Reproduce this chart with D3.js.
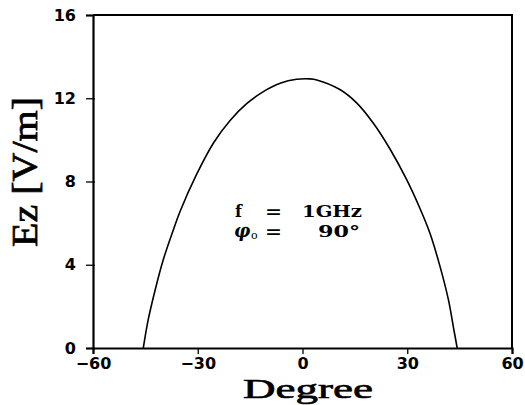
<!DOCTYPE html>
<html>
<head>
<meta charset="utf-8">
<script src="https://cdn.jsdelivr.net/npm/d3@7"></script>
<style>
  html, body { margin: 0; padding: 0; background: #fff; }
  svg { display: block; }
</style>
</head>
<body>
<svg id="chart" width="525" height="405"></svg>
<script>
// ---- data ----
const degrees = [-45.6, -44.2, -42.2, -39.9, -37.0, -35.1, -30.3, -25.5, -20.8, -16.0, -11.2, -6.4, -1.7,
                 2.1, 4.1, 10.7, 15.5, 20.3, 25.1, 29.8, 33.65, 36.5, 39.4, 41.8, 43.2, 44.3];
const ez = [0, 1.35, 2.79, 4.23, 5.67, 6.55, 8.35, 9.85, 10.92, 11.74, 12.32, 12.72, 12.91,
            12.93, 12.88, 12.42, 11.78, 10.80, 9.55, 8.10, 6.70, 5.51, 3.91, 2.31, 1.02, 0];
const xTicks = [-60, -30, 0, 30, 60];
const yTicks = [0, 4, 8, 12, 16];
const xLabel = "Degree";
const yLabel = "Ez [V/m]";
const annotF = ["f", "=", "1GHz"];
const annotPhi = ["φ", "o", "=", "90°"];

// ---- layout ----
const W = 525, H = 405;
const m = { left: 93, right: 13, top: 15, bottom: 57 };
const svg = d3.select("#chart");

const x = d3.scaleLinear().domain([-60, 60]).range([m.left, W - m.right]);
const y = d3.scaleLinear().domain([0, 16]).range([H - m.bottom, m.top]);

const fmt = d => (d < 0 ? "\u2212" + Math.abs(d) : String(d));

// minor ticks
const xMinor = d3.range(-60, 60.001, 2).filter(v => !xTicks.includes(v));
const yMinor = d3.range(0, 16.001, 0.4).map(v => +v.toFixed(1)).filter(v => !yTicks.includes(v));

// frame (top & right)
svg.append("path")
  .attr("d", `M${x(-60)},${y(16)}H${x(60)}V${y(0)}`)
  .attr("fill", "none").attr("stroke", "#000").attr("stroke-width", 2);

// x axis
const gx = svg.append("g").attr("transform", `translate(0,${y(0)})`);
gx.call(d3.axisBottom(x).tickValues(xMinor).tickSize(5).tickFormat(""));
gx.call(d3.axisBottom(x).tickValues(xTicks).tickSize(6).tickPadding(4).tickFormat(fmt));
gx.selectAll(".domain").attr("stroke-width", 2.2);
gx.selectAll(".tick line").attr("stroke-width", 1.3);
gx.selectAll("text")
  .attr("font-family", "DejaVu Sans").attr("font-weight", "bold").attr("font-size", 16).attr("fill", "#000");

// y axis
const gy = svg.append("g").attr("transform", `translate(${x(-60)},0)`);
gy.call(d3.axisLeft(y).tickValues(yMinor).tickSize(5).tickFormat(""));
gy.call(d3.axisLeft(y).tickValues(yTicks).tickSize(7).tickPadding(10).tickFormat(fmt));
gy.selectAll(".domain").attr("stroke-width", 2.2);
gy.selectAll(".tick line").attr("x1", 2).attr("stroke-width", 1.3);
gy.selectAll("text")
  .attr("font-family", "DejaVu Sans").attr("font-weight", "bold").attr("font-size", 16).attr("fill", "#000");

// curve
const pts = degrees.map((d, i) => [d, ez[i]]);
svg.append("path")
  .datum(pts)
  .attr("fill", "none").attr("stroke", "#000").attr("stroke-width", 1.6)
  .attr("d", d3.line().x(d => x(d[0])).y(d => y(d[1])).curve(d3.curveCatmullRom.alpha(0.5)));

// axis titles
svg.append("text")
  .attr("x", 308).attr("y", 398)
  .attr("text-anchor", "middle")
  .attr("font-family", "Liberation Serif").attr("font-size", 27)
  .attr("stroke", "#000").attr("stroke-width", 0.6)
  .attr("textLength", 130).attr("lengthAdjust", "spacingAndGlyphs")
  .text(xLabel);

svg.append("text")
  .attr("transform", "translate(37,172) rotate(-90)")
  .attr("text-anchor", "middle")
  .attr("font-family", "Liberation Serif").attr("font-size", 36)
  .attr("stroke", "#000").attr("stroke-width", 0.7)
  .attr("textLength", 150).attr("lengthAdjust", "spacingAndGlyphs")
  .text(yLabel);

// annotation
const af = svg.append("text")
  .attr("font-family", "DejaVu Serif").attr("font-weight", "bold").attr("font-size", 16).attr("y", 217);
af.append("tspan").attr("x", 235).text(annotF[0]);
af.append("tspan").attr("x", 265).attr("textLength", 17).attr("lengthAdjust", "spacingAndGlyphs").text(annotF[1]);
af.append("tspan").attr("x", 302).attr("textLength", 60).attr("lengthAdjust", "spacingAndGlyphs").text(annotF[2]);

const ap = svg.append("text")
  .attr("font-family", "DejaVu Serif").attr("font-weight", "bold").attr("font-size", 16).attr("y", 237);
ap.append("tspan").attr("x", 234).attr("font-style", "italic").attr("font-size", 18).text(annotPhi[0]);
ap.append("tspan").attr("x", 251).attr("font-size", 11).attr("font-weight", "normal").attr("dy", 2).text(annotPhi[1]);
ap.append("tspan").attr("x", 265).attr("dy", -2).attr("textLength", 17).attr("lengthAdjust", "spacingAndGlyphs").text(annotPhi[2]);
ap.append("tspan").attr("x", 318).attr("textLength", 42).attr("lengthAdjust", "spacingAndGlyphs").text(annotPhi[3]);
</script>
</body>
</html>
